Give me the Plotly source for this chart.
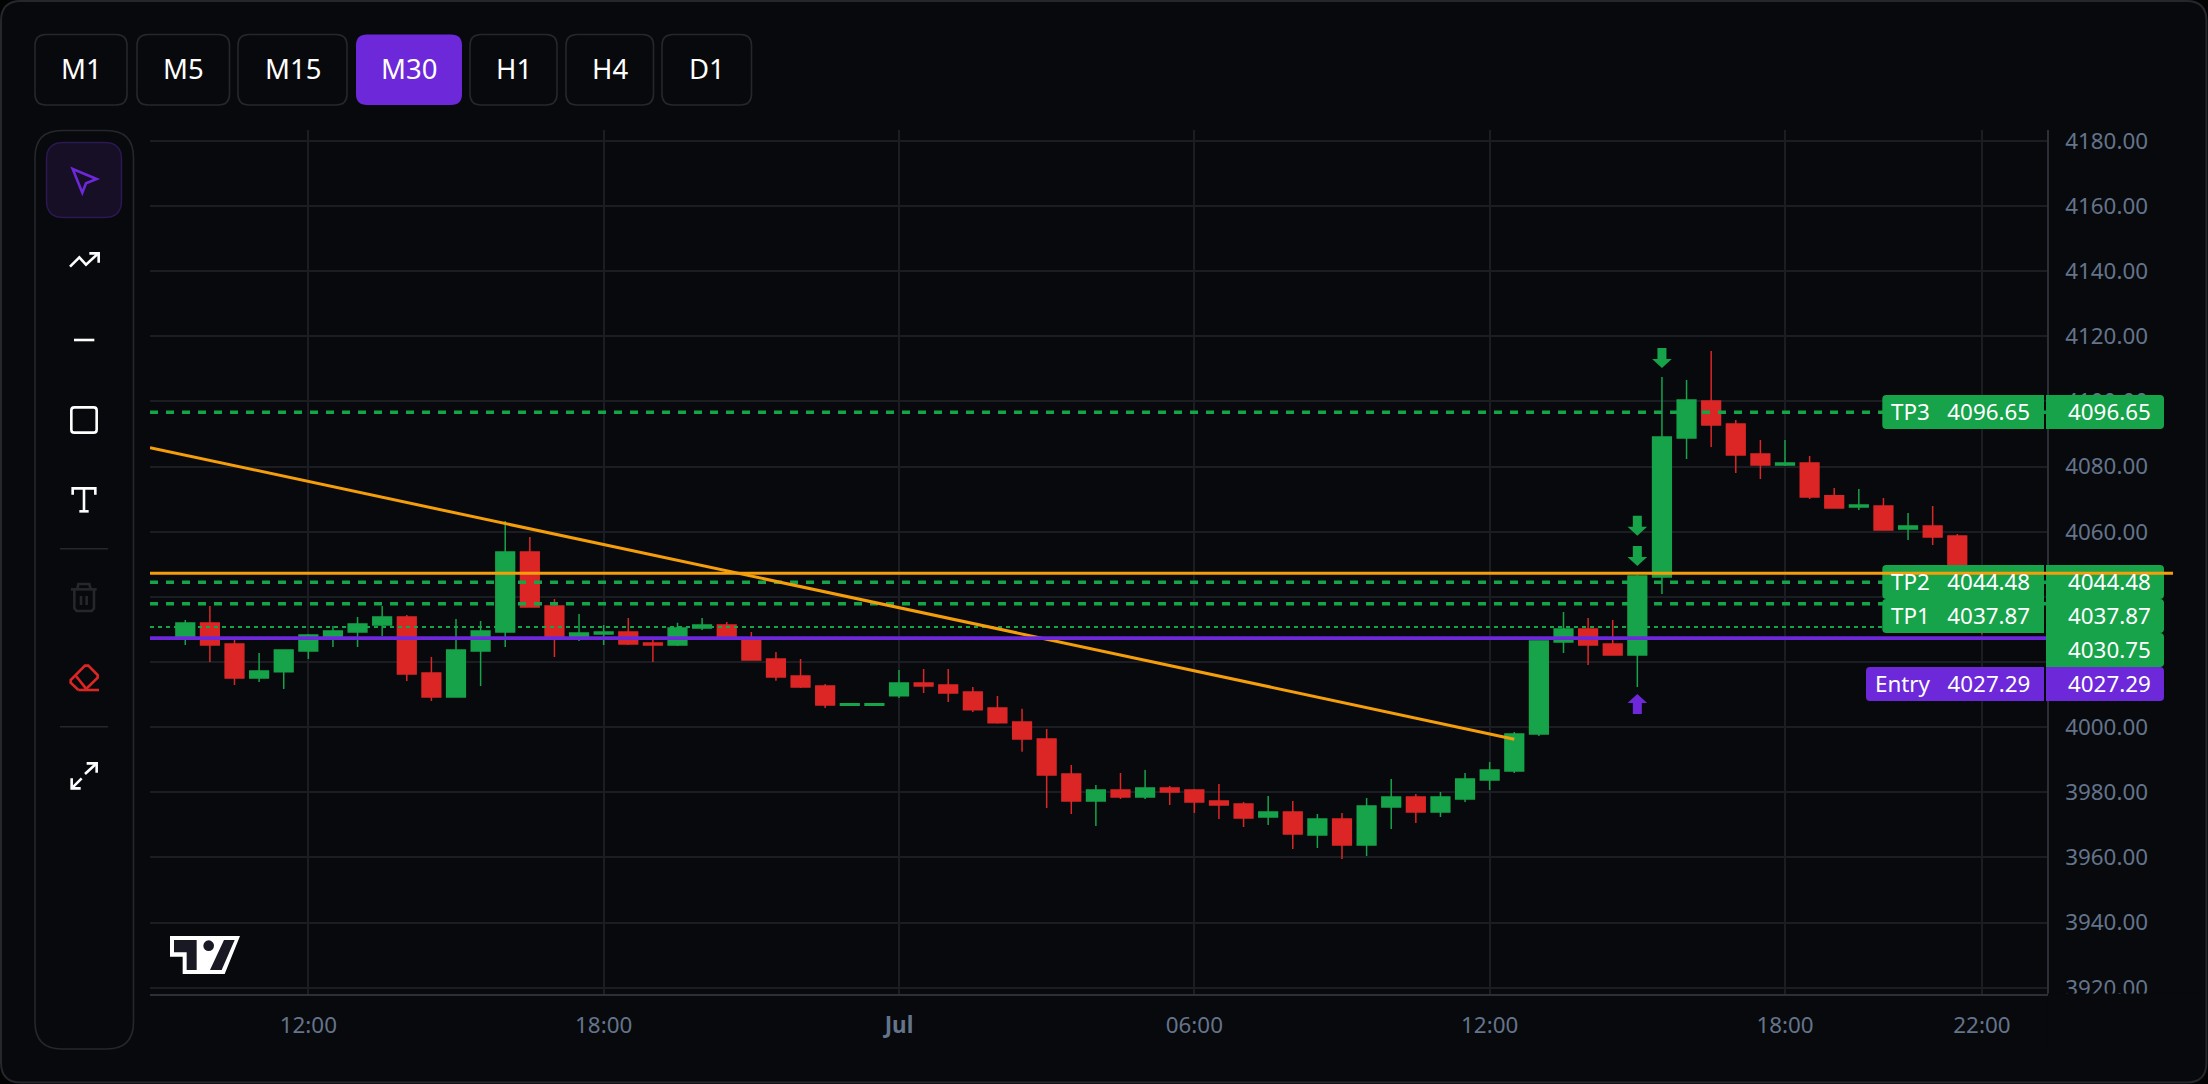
import plotly.graph_objects as go

# ---------- data ----------
times = [
 "2026-06-30 09:30","2026-06-30 10:00","2026-06-30 10:30","2026-06-30 11:00","2026-06-30 11:30",
 "2026-06-30 12:00","2026-06-30 12:30","2026-06-30 13:00","2026-06-30 13:30","2026-06-30 14:00",
 "2026-06-30 14:30","2026-06-30 15:00","2026-06-30 15:30","2026-06-30 16:00","2026-06-30 16:30",
 "2026-06-30 17:00","2026-06-30 17:30","2026-06-30 18:00","2026-06-30 18:30","2026-06-30 19:00",
 "2026-06-30 19:30","2026-06-30 20:00","2026-06-30 20:30","2026-06-30 21:00","2026-06-30 21:30",
 "2026-06-30 22:00","2026-06-30 22:30","2026-06-30 23:00","2026-06-30 23:30",
 "2026-07-01 00:00","2026-07-01 00:30","2026-07-01 01:00","2026-07-01 01:30","2026-07-01 02:00",
 "2026-07-01 02:30","2026-07-01 03:00","2026-07-01 03:30","2026-07-01 04:00","2026-07-01 04:30",
 "2026-07-01 05:00","2026-07-01 05:30","2026-07-01 06:00","2026-07-01 06:30","2026-07-01 07:00",
 "2026-07-01 07:30","2026-07-01 08:00","2026-07-01 08:30","2026-07-01 09:00","2026-07-01 09:30",
 "2026-07-01 10:00","2026-07-01 10:30","2026-07-01 11:00","2026-07-01 11:30","2026-07-01 12:00",
 "2026-07-01 12:30","2026-07-01 13:00","2026-07-01 13:30","2026-07-01 14:00","2026-07-01 14:30",
 "2026-07-01 15:00","2026-07-01 15:30","2026-07-01 16:00","2026-07-01 16:30","2026-07-01 17:00",
 "2026-07-01 17:30","2026-07-01 18:00","2026-07-01 18:30","2026-07-01 19:00","2026-07-01 19:30",
 "2026-07-01 20:00","2026-07-01 20:30","2026-07-01 21:00","2026-07-01 21:30","2026-07-01 22:00",
]
opens = [4027.46,4031.96,4025.5,4015.1,4017.0,4023.4,4027.3,4029.2,4031.35,4033.8,
 4016.6,4009.25,4023.4,4029.2,4053.75,4037.2,4027.0,4028.6,4029.2,4025.8,
 4025.2,4030.4,4031.35,4027.4,4020.9,4015.7,4012.6,4006.7,4006.7,
 4009.6,4013.55,4012.9,4010.8,4005.9,4001.6,3996.35,3985.6,3977.3,3980.7,
 3978.55,3981.3,3980.7,3977.3,3976.4,3972.4,3973.95,3966.9,3971.8,3963.8,
 3975.5,3978.55,3973.95,3977.95,3983.8,3986.5,3997.9,4026.1,4030.1,4025.5,
 4022.15,4046.1,4088.75,4100.1,4093.05,4083.85,4080.45,4081.1,4071.0,4067.6,
 4067.9,4060.8,4061.7,4058.65,4040.0]
highs = [4032.88,4037.18,4026.75,4022.75,4023.7,4028.6,4031.05,4033.8,4037.2,4034.4,
 4021.5,4033.2,4032.6,4063.3,4058.35,4039.3,4034.7,4031.35,4033.5,4026.8,
 4032.0,4033.5,4032.3,4029.2,4023.05,4020.9,4013.2,4007.2,4007.2,
 4017.5,4017.85,4017.85,4012.3,4009.55,4005.6,3999.4,3988.4,3982.2,3985.9,
 3986.85,3981.9,3981.0,3982.55,3977.0,3978.85,3977.3,3973.3,3973.65,3978.25,
 3984.1,3979.5,3980.1,3985.9,3989.3,3998.5,4026.7,4035.35,4033.5,4032.9,
 4046.7,4107.5,4106.55,4115.45,4094.3,4088.15,4088.15,4083.2,4073.4,4073.1,
 4070.3,4065.7,4067.9,4059.3,4044.0]
lows = [4025.2,4020.0,4012.9,4013.85,4011.7,4020.9,4024.6,4024.6,4028.0,4014.15,
 4008.0,4009.0,4012.6,4024.6,4036.85,4021.5,4026.4,4025.2,4025.2,4020.0,
 4024.9,4029.8,4027.4,4020.6,4014.2,4012.0,4005.9,4006.7,4006.7,
 4008.9,4010.5,4007.7,4004.65,4001.0,3992.4,3975.2,3973.3,3969.65,3977.95,
 3977.95,3976.1,3973.65,3971.8,3969.35,3969.95,3962.6,3962.9,3959.5,3960.45,
 3968.75,3970.6,3972.4,3977.0,3980.7,3985.9,3997.3,4022.75,4019.1,4022.15,
 4012.3,4040.9,4082.3,4086.0,4078.0,4076.15,4080.15,4070.0,4067.25,4066.65,
 4060.5,4057.45,4055.9,4038.0,4028.4]
closes = [4031.96,4025.2,4015.1,4017.2,4023.7,4028.3,4029.5,4031.65,4033.8,4016.3,
 4009.25,4023.7,4029.5,4053.75,4036.85,4027.4,4028.9,4029.2,4025.5,4025.2,
 4030.4,4031.35,4027.6,4020.6,4015.4,4012.3,4006.8,4007.2,4007.2,
 4013.55,4012.6,4010.5,4005.3,4001.3,3996.35,3985.3,3977.3,3980.7,3978.55,
 3981.3,3980.1,3977.0,3976.1,3972.1,3973.95,3967.2,3971.8,3963.8,3975.8,
 3978.55,3973.95,3978.55,3984.1,3986.85,3997.9,4026.4,4030.1,4025.2,4022.15,
 4046.4,4089.05,4100.4,4092.75,4083.55,4080.45,4081.1,4070.65,4067.25,4068.2,
 4060.5,4061.7,4058.35,4040.0,4030.75]

tp_levels = [4037.87, 4044.48, 4096.65]
tp_names = ["TP1", "TP2", "TP3"]
entry_level = 4027.29
last_level = 4030.75
orange_level = 4047.2
trend_times = ["2026-06-30 08:47", "2026-07-01 12:30"]
trend_values = [4085.8, 3996.3]
down_arrow_times = ["2026-07-01 15:30", "2026-07-01 15:00", "2026-07-01 15:00"]
down_arrow_values = [4113.3, 4061.8, 4052.5]
up_arrow_times = ["2026-07-01 15:00"]
up_arrow_values = [4007.1]

x_tickvals = ["2026-06-30 12:00","2026-06-30 18:00","2026-07-01 00:00","2026-07-01 06:00",
              "2026-07-01 12:00","2026-07-01 18:00","2026-07-01 22:00"]
x_ticktext = ["12:00","18:00","<b>Jul</b>","06:00","12:00","18:00","22:00"]
y_tickvals = [3920,3940,3960,3980,4000,4020,4040,4060,4080,4100,4120,4140,4160,4180]
timeframes = ["M1","M5","M15","M30","H1","H4","D1"]
active_timeframe = "M30"

# ---------- style ----------
W, H = 2208, 1084
BG = "#08090c"
BORDER = "#26272c"
GRID = "#1b1d23"
SPINE = "#2c2f37"
GREEN = "#16a34a"
RED = "#dc2626"
PURPLE = "#6d28d9"
ORANGE = "#f59e0b"
TICK = "#64748b"
FONT = "Noto Sans"
P_L, P_R, P_T, P_B = 150, 2046.7, 130, 994
btn_spans = [(35,127),(137,229.5),(238,347),(356,462),(470,557),(566,653.5),(662,751.5)]
BTN_T, BTN_B = 34.5, 105


def X(p): return p / W
def Y(p): return 1 - p / H
def P(x, y): return f"{X(x):.6f},{Y(y):.6f}"


def rrect_path(x0, y0, x1, y1, r=0, rl=None, rr=None):
    rl = r if rl is None else rl
    rr = r if rr is None else rr
    return (f"M{P(x0+rl,y0)}L{P(x1-rr,y0)}Q{P(x1,y0)} {P(x1,y0+rr)}"
            f"L{P(x1,y1-rr)}Q{P(x1,y1)} {P(x1-rr,y1)}"
            f"L{P(x0+rl,y1)}Q{P(x0,y1)} {P(x0,y1-rl)}"
            f"L{P(x0,y0+rl)}Q{P(x0,y0)} {P(x0+rl,y0)}Z")


def poly(pts, close=False):
    return "M" + "L".join(P(a, b) for a, b in pts) + ("Z" if close else "")


shapes = []


def add_path(path, fill="rgba(0,0,0,0)", line=None, width=0, layer="above"):
    shapes.append(dict(type="path", xref="paper", yref="paper", path=path, fillcolor=fill,
                       line=dict(color=line or "rgba(0,0,0,0)", width=width), layer=layer))


# outer frame, timeframe buttons and toolbar sit below the plot
add_path(rrect_path(1, 1, 2206.5, 1082.5, 20), fill=BG, line=BORDER, width=2, layer="below")
for name, (a, b) in zip(timeframes, btn_spans):
    if name == active_timeframe:
        add_path(rrect_path(a, BTN_T, b, BTN_B, 11), fill=PURPLE, layer="below")
    else:
        add_path(rrect_path(a, BTN_T, b, BTN_B, 11), line=BORDER, width=1.6, layer="below")
add_path(rrect_path(35, 130.5, 133.5, 1049, 27), line=BORDER, width=1.6, layer="below")
add_path(rrect_path(46.5, 142.5, 121.5, 217.5, 17), fill="#170f26", line="#2a1850", width=1.5, layer="below")

# toolbar icons
zx12 = lambda a: 50 + a / 3
zy12 = lambda b: 150 + b / 3
zy11 = lambda b: 570 + b / 3
def z12(*pts): return [(zx12(a), zy12(b)) for a, b in pts]
def z11(*pts): return [(zx12(a), zy11(b)) for a, b in pts]
add_path(poly(z12((68,57),(140,87),(108,100),(97,128)), True), line=PURPLE, width=2.6, layer="below")
add_path(poly(z12((60,350),(88,322),(108,344),(145,310))), line="#ffffff", width=2.6, layer="below")
add_path(poly(z12((118,310),(146,310),(146,338))), line="#ffffff", width=2.6, layer="below")
add_path(poly(z12((72,570),(133,570))), line="#ffffff", width=2.6, layer="below")
add_path(rrect_path(zx12(64), zy12(772), zx12(140), zy12(848), 3), line="#ffffff", width=2.6, layer="below")
add_path(poly(z12((68,1034),(68,1015),(136,1015),(136,1034))), line="#ffffff", width=2.6, layer="below")
add_path(poly(z12((102,1015),(102,1084))), line="#ffffff", width=2.6, layer="below")
add_path(poly(z12((88,1084),(116,1084))), line="#ffffff", width=2.6, layer="below")
add_path(poly([(60, 548.7), (108, 548.7)]), line=BORDER, width=1.6, layer="below")
add_path(poly([(60, 726.7), (108, 726.7)]), line=BORDER, width=1.6, layer="below")
DIM = "#25272c"
add_path(poly(z11((63,58),(140,58))), line=DIM, width=2.6, layer="below")
add_path(poly(z11((82,58),(85,42),(118,42),(122,58))), line=DIM, width=2.6, layer="below")
add_path(poly(z11((73,58),(73,115),(80,123),(125,123),(132,115),(132,58))), line=DIM, width=2.6, layer="below")
add_path(poly(z11((93,78),(93,105))), line=DIM, width=2.6, layer="below")
add_path(poly(z11((110,78),(110,105))), line=DIM, width=2.6, layer="below")
add_path(poly(z11((85,360),(62,338),(62,330),(105,287),(115,287),(143,315),(143,323),(105,360))), line=RED, width=2.6, layer="below")
add_path(poly(z11((78,318),(110,358))), line=RED, width=2.6, layer="below")
add_path(poly(z11((85,360),(147,360))), line=RED, width=2.6, layer="below")
add_path(poly(z11((105,612),(140,580))), line="#ffffff", width=2.6, layer="below")
add_path(poly(z11((110,580),(140,580),(140,608))), line="#ffffff", width=2.6, layer="below")
add_path(poly(z11((95,625),(65,655))), line="#ffffff", width=2.6, layer="below")
add_path(poly(z11((65,625),(65,655),(92,655))), line="#ffffff", width=2.6, layer="below")

# logo
lx = lambda a: 160 + a / 3
ly = lambda b: 925 + b / 3
def zl(*pts): return [(lx(a), ly(b)) for a, b in pts]
add_path(poly(zl((30,33),(240,33),(194,147),(68,147),(68,95),(30,95)), True), fill="#ffffff", layer="below")
add_path(poly(zl((42,45),(110,45),(110,135),(80,135),(80,82),(42,82)), True), fill="#191924", layer="below")
add_path(poly(zl((192,45),(224,45),(185,135),(150,135)), True), fill="#191924", layer="below")
shapes.append(dict(type="circle", xref="paper", yref="paper", layer="below",
                   x0=X(lx(130)), x1=X(lx(162)), y0=Y(ly(78)), y1=Y(ly(46)),
                   fillcolor="#191924", line=dict(width=0)))

# price lines
def hline(level, color, width, dash="solid", x1=1.0):
    shapes.append(dict(type="line", xref="paper", yref="y", x0=X(P_L), x1=x1, y0=level, y1=level,
                       line=dict(color=color, width=width, dash=dash), layer="above"))

for lvl in tp_levels:
    hline(lvl, GREEN, 3.6, "8px,8px", X(P_R))
hline(last_level, GREEN, 2, "4px,4px", X(P_R))
shapes.append(dict(type="line", xref="x", yref="y", x0=trend_times[0], x1=trend_times[1],
                   y0=trend_values[0], y1=trend_values[1],
                   line=dict(color=ORANGE, width=3), layer="above"))
hline(entry_level, PURPLE, 3.8, "solid", X(P_R))

# masks the bottom axis label clipping
add_path(f"M{P(2048,993.5)}L{P(2200,993.5)}L{P(2200,1045)}L{P(2048,1045)}Z", fill=BG)

# price label boxes
R_X0, R_X1 = 2046, 2164
L_X1 = 2044
label_rows = [
    ("TP3", tp_levels[2], 395, 429, GREEN, 1882.3),
    ("TP2", tp_levels[1], 565, 599, GREEN, 1882.3),
    ("TP1", tp_levels[0], 599, 633, GREEN, 1882.3),
    ("Entry", entry_level, 667, 701, PURPLE, 1866),
]
for _, _, t, b, c, lx0 in label_rows:
    add_path(rrect_path(lx0, t, L_X1, b, rl=4, rr=0), fill=c)
right_rows = [(tp_levels[2], 395, 429, GREEN), (tp_levels[1], 565, 599, GREEN),
              (tp_levels[0], 599, 633, GREEN), (last_level, 633, 667, GREEN),
              (entry_level, 667, 701, PURPLE)]
for _, t, b, c in right_rows:
    add_path(rrect_path(R_X0, t, R_X1, b, rl=0, rr=4), fill=c)

# orange level line runs over the boxes, past the axis
hline(orange_level, ORANGE, 3, "solid", X(2173))

# trade arrows anchored on the data scales
def arrow_path(sign):
    s = sign
    pts = [(-4.5, 10*s), (4.5, 10*s), (4.5, -1*s), (9.8, -1*s), (0, -10*s), (-9.8, -1*s), (-4.5, -1*s)]
    return "M" + "L".join(f"{a},{b}" for a, b in pts) + "Z"

def add_arrow(t, v, color, sign):
    shapes.append(dict(type="path", xsizemode="pixel", ysizemode="pixel", xanchor=t, yanchor=v,
                       xref="x", yref="y", path=arrow_path(sign), fillcolor=color,
                       line=dict(width=0), layer="above"))

for t, v in zip(down_arrow_times, down_arrow_values):
    add_arrow(t, v, GREEN, 1)
for t, v in zip(up_arrow_times, up_arrow_values):
    add_arrow(t, v, PURPLE, -1)

# ---------- text ----------
annos = []
def text(x, y, s, size=22.4, color="#ffffff", anchor="center"):
    annos.append(dict(xref="paper", yref="paper", x=X(x), y=Y(y), text=s, showarrow=False,
                      xanchor=anchor, yanchor="middle", font=dict(family=FONT, size=size, color=color)))

for name, (a, b) in zip(timeframes, btn_spans):
    text((a + b) / 2, 68.5, name, size=27.5)
for name, val, t, b, c, lx0 in label_rows:
    text(2032, (t + b) / 2 - 1, f"{name}   {val:.2f}", anchor="right")
for val, t, b, c in right_rows:
    text(2066, (t + b) / 2 - 1, f"{val:.2f}", anchor="left")

# ---------- figure ----------
fig = go.Figure(go.Candlestick(
    x=times, open=opens, high=highs, low=lows, close=closes,
    increasing=dict(line=dict(color=GREEN, width=1.5), fillcolor=GREEN),
    decreasing=dict(line=dict(color=RED, width=1.5), fillcolor=RED),
    showlegend=False, hoverinfo="skip",
))
fig.update_layout(
    width=W, height=H, margin=dict(l=0, r=0, t=0, b=0, pad=0),
    paper_bgcolor="#030304", plot_bgcolor=BG, showlegend=False,
    boxgap=0.24, boxgroupgap=0, shapes=shapes, annotations=annos,
    font=dict(family=FONT),
    xaxis=dict(domain=[X(P_L), X(P_R)], range=["2026-06-30 08:47", "2026-07-01 23:19"], type="date",
               rangeslider=dict(visible=False), tickmode="array", tickvals=x_tickvals, ticktext=x_ticktext,
               tickfont=dict(family=FONT, size=22.4, color=TICK), showgrid=True, gridcolor=GRID, gridwidth=1.5,
               showline=True, linecolor=SPINE, linewidth=2, ticks="", zeroline=False, ticklabelstandoff=10,
               automargin=False),
    yaxis=dict(domain=[Y(P_B), Y(P_T)], range=[3918.07, 4183.3], side="right", tickmode="array",
               tickvals=y_tickvals, tickformat=".2f", tickfont=dict(family=FONT, size=22.4, color=TICK),
               showgrid=True, gridcolor=GRID, gridwidth=1.5, showline=True, linecolor=SPINE, linewidth=2,
               ticks="", zeroline=False, ticklabelstandoff=12, automargin=False),
)
fig.write_html("out.html", config=dict(displayModeBar=False),
               post_script="document.body.style.margin='0';document.documentElement.style.background='#030304';document.body.style.overflow='hidden';")
